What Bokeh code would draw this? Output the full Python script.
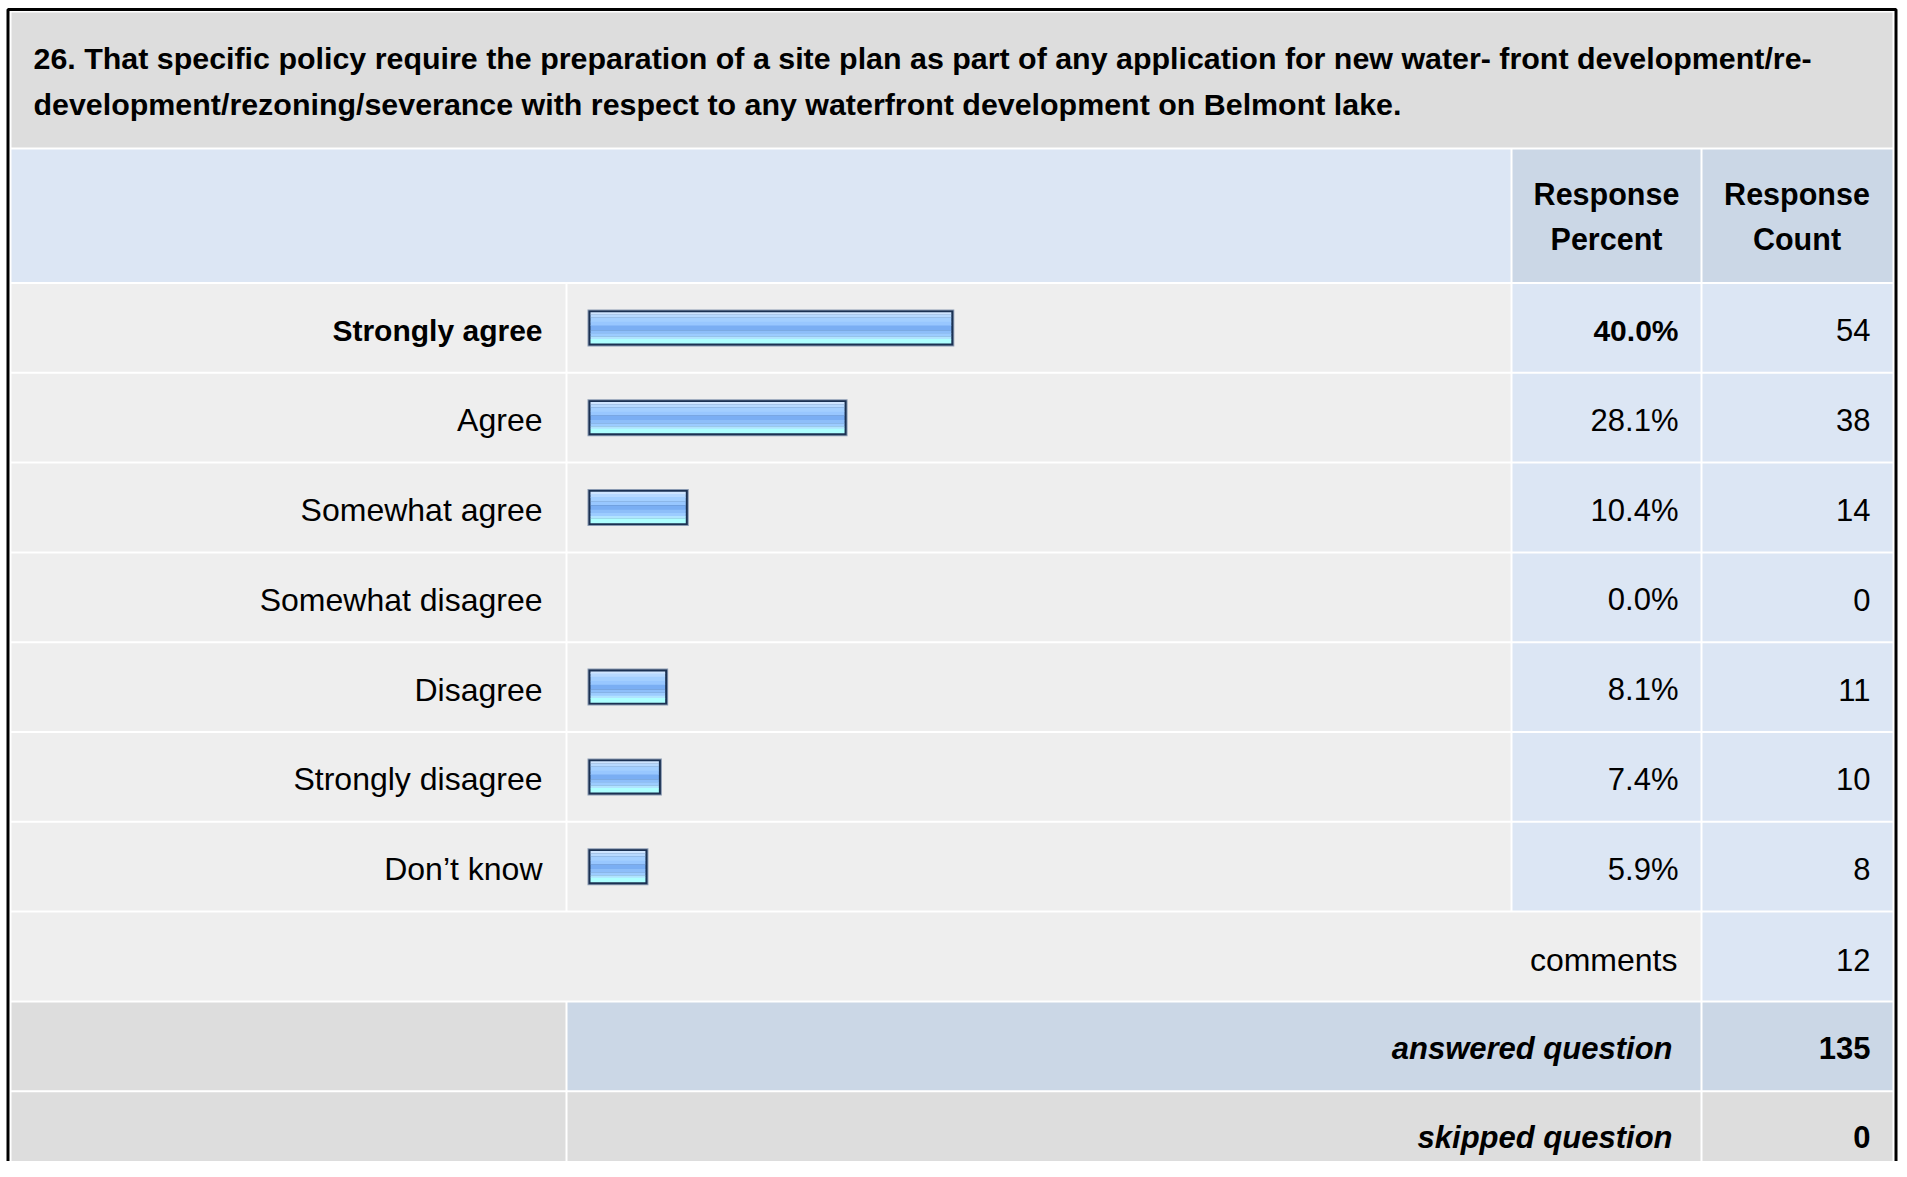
from bokeh.plotting import figure
from bokeh.models import Range1d, ColumnDataSource
from bokeh.core.properties import value
from bokeh.embed import file_html
from bokeh.resources import INLINE

# ---------------- data ----------------
title_lines = [
    "26. That specific policy require the preparation of a site plan as part of any application for new water- front development/re-",
    "development/rezoning/severance with respect to any waterfront development on Belmont lake.",
]
header_percent = ["Response", "Percent"]
header_count = ["Response", "Count"]
categories = ["Strongly agree", "Agree", "Somewhat agree", "Somewhat disagree",
              "Disagree", "Strongly disagree", "Don\u2019t know"]
percents = [40.0, 28.1, 10.4, 0.0, 8.1, 7.4, 5.9]
counts = [54, 38, 14, 0, 11, 10, 8]
comments_label = "comments"
comments_count = 12
answered_label = "answered question"
answered_count = 135
skipped_label = "skipped question"
skipped_count = 0

# ---------------- layout (px) ----------------
W, H = 1899, 1161
X0, XL, XB, XP, X1 = 11, 566, 1511, 1701, 1892
Y0, YT = 12, 148
B0, PITCH = 282.5, 89.8
FONT = value("Liberation Sans")
BAR0 = 594.0          # x of 0 %
PXPCT = 8.97          # px per percent
BAR_MIN = 6.0         # bar cap width in px
BAR_H = 35.0

def b(k):
    return B0 + PITCH * k

def center(k):
    return b(k) + PITCH / 2

p = figure(width=W, height=H, x_range=Range1d(0, W), y_range=Range1d(H, 0),
           output_backend="svg", toolbar_location=None, min_border=0,
           x_axis_location=None, y_axis_location=None)
p.grid.visible = False
p.outline_line_color = None
p.background_fill_color = "white"
p.border_fill_color = "white"
p.extra_x_ranges = {"pct": Range1d(start=(0 - BAR0) / PXPCT, end=(W - BAR0) / PXPCT)}

BOT = H + 20
cells = {"l": [], "r": [], "t": [], "b": [], "c": []}
def cell(l, r, t, bt, c):
    cells["l"].append(l); cells["r"].append(r); cells["t"].append(t); cells["b"].append(bt); cells["c"].append(c)

GRAY, LGRAY, LBLUE, DBLUE = "#DDDDDD", "#EEEEEE", "#DCE6F4", "#CBD7E6"
cell(X0, X1, Y0, YT - 1, GRAY)
cell(X0, XB - 1, YT + 1, b(0) - 1, LBLUE)
cell(XB + 1, XP - 1, YT + 1, b(0) - 1, DBLUE)
cell(XP + 1, X1, YT + 1, b(0) - 1, DBLUE)
n = len(categories)
for i in range(n):
    cell(X0, XL - 1, b(i) + 1, b(i + 1) - 1, LGRAY)
    cell(XL + 1, XB - 1, b(i) + 1, b(i + 1) - 1, LGRAY)
    cell(XB + 1, XP - 1, b(i) + 1, b(i + 1) - 1, LBLUE)
    cell(XP + 1, X1, b(i) + 1, b(i + 1) - 1, LBLUE)
k = n
cell(X0, XP - 1, b(k) + 1, b(k + 1) - 1, LGRAY)
cell(XP + 1, X1, b(k) + 1, b(k + 1) - 1, LBLUE)
k = n + 1
cell(X0, XL - 1, b(k) + 1, b(k + 1) - 1, GRAY)
cell(XL + 1, XP - 1, b(k) + 1, b(k + 1) - 1, DBLUE)
cell(XP + 1, X1, b(k) + 1, b(k + 1) - 1, DBLUE)
k = n + 2
cell(X0, XL - 1, b(k) + 1, BOT, GRAY)
cell(XL + 1, XP - 1, b(k) + 1, BOT, GRAY)
cell(XP + 1, X1, b(k) + 1, BOT, GRAY)

p.quad(left="l", right="r", top="t", bottom="b", fill_color="c", line_color=None,
       source=ColumnDataSource(cells))

# outer black frame
p.quad(left=[7.5], right=[1895.5], top=[9.0], bottom=[BOT + 10], fill_color=None,
       line_color="black", line_width=3)

# ---------------- bars ----------------
idx = [i for i in range(n) if percents[i] > 0]
bp = [percents[i] for i in idx]
bc = [center(i) for i in idx]
left_outer = -BAR_MIN / PXPCT
p.hbar(y=bc, left=[left_outer - 1 / PXPCT] * len(idx), right=[v + 1 / PXPCT for v in bp],
       height=BAR_H + 2, fill_color="#8A9AB2", line_color=None, x_range_name="pct")
p.hbar(y=bc, left=[left_outer] * len(idx), right=bp, height=BAR_H,
       fill_color="#1B3152", line_color=None, x_range_name="pct")
stripes = [(0.00, 0.07, "#CFE5FF"), (0.07, 0.17, "#B7D9FF"), (0.17, 0.31, "#A3CFFF"),
           (0.31, 0.43, "#98C7FF"), (0.43, 0.58, "#7AAEF3"), (0.58, 0.68, "#8DBEF9"),
           (0.68, 0.78, "#9CCCFF"), (0.78, 0.86, "#B1E4FF"), (0.86, 1.00, "#AEFFFF")]
inner_h = BAR_H - 4
inset = 2 / PXPCT
for f0, f1, col in stripes:
    ys = [c - inner_h / 2 + (f0 + f1) / 2 * inner_h for c in bc]
    p.hbar(y=ys, left=[left_outer + inset] * len(idx), right=[v - inset for v in bp],
           height=(f1 - f0) * inner_h + 0.3, fill_color=col, line_color=None, x_range_name="pct")

# ---------------- texts ----------------
def txt(x, y, s, size, style="normal", align="right"):
    p.text(x=[x], y=[y], text=[s], text_font=FONT, text_font_size=size,
           text_font_style=style, text_align=align, text_baseline="alphabetic",
           text_color="black")

txt(33, 57.6, title_lines[0], "30.4px", "bold", "left")
txt(33, 103.8, title_lines[1], "30.4px", "bold", "left")
cx_p = (XB + XP) / 2
cx_c = (XP + X1) / 2
txt(cx_p, 193.8, header_percent[0], "30.5px", "bold", "center")
txt(cx_p, 238.8, header_percent[1], "30.5px", "bold", "center")
txt(cx_c, 193.8, header_count[0], "30.5px", "bold", "center")
txt(cx_c, 238.8, header_count[1], "30.5px", "bold", "center")

top = max(range(n), key=lambda i: percents[i])
for i in range(n):
    y = center(i) + 2.5
    bold = i == top
    txt(542, y, categories[i], "30px" if bold else "32px", "bold" if bold else "normal")
    txt(1678, y, f"{percents[i]:.1f}%", "30px" if bold else "31px", "bold" if bold else "normal")
    txt(1870, y, str(counts[i]), "31px")

txt(1677, center(n) + 3, comments_label, "32px")
txt(1870, center(n) + 3, str(comments_count), "31px")
txt(1672, center(n + 1) + 2, answered_label, "31px", "bold italic")
txt(1870, center(n + 1) + 2, str(answered_count), "31px", "bold")
txt(1672, center(n + 2) + 1, skipped_label, "31px", "bold italic")
txt(1870, center(n + 2) + 1, str(skipped_count), "31px", "bold")

open("out.html", "w").write(file_html(p, INLINE))
